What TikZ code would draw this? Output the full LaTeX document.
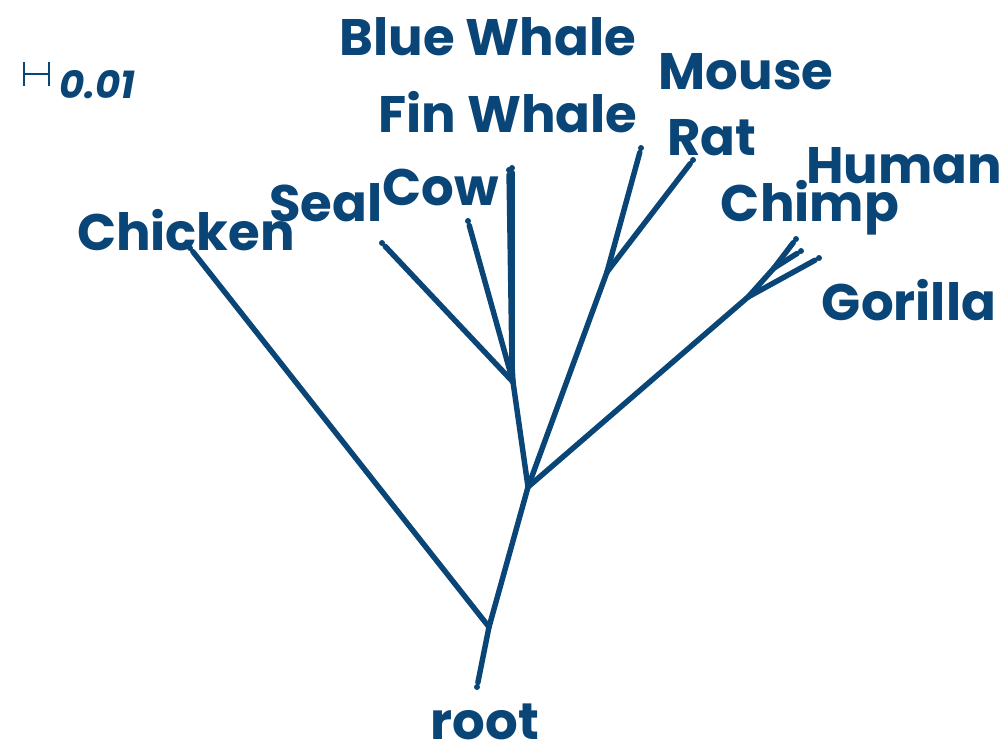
\documentclass[tikz,border=0pt]{standalone}
\usepackage{fontspec}
\setmainfont{Poppins}
\usetikzlibrary{positioning}
\definecolor{treeblue}{HTML}{0A4577}
\tikzset{
    branch/.style={treeblue, line width=1.55pt, line cap=round},
    twig/.style={branch, shorten >=1.3pt},
    taxon/.style={text=treeblue, inner sep=0pt,
        font=\fontsize{14.6}{15}\selectfont\bfseries}
}

\begin{document}
\begin{tikzpicture}[x=0.01cm, y=-0.01cm]
    \useasboundingbox (0, 0) rectangle (1001, 748);

    % inner nodes
    \coordinate (n0) at (489, 627);
    \coordinate (n1) at (528, 487);
    \coordinate (n2) at (513, 382);
    \coordinate (n3) at (512, 365);
    \coordinate (n4) at (607, 272);
    \coordinate (n5) at (748, 297);
    \coordinate (n6) at (774, 268);

    % leaves
    \coordinate (root) at (477, 687);
    \coordinate (chicken) at (190, 248);
    \coordinate (seal) at (382, 243);
    \coordinate (cow) at (468, 221);
    \coordinate (fin) at (509, 170);
    \coordinate (blue) at (512, 168);
    \coordinate (mouse) at (641, 148);
    \coordinate (rat) at (693, 160);
    \coordinate (human) at (796, 239);
    \coordinate (chimp) at (801, 251);
    \coordinate (gorilla) at (819, 258);

    \node[taxon] (lroot) at (485, 722) {root};
    \node[taxon] (lchicken) at (186, 230) {Chicken};
    \node[taxon] (lseal) at (326, 203) {Seal};
    \node[taxon] (lcow) at (441, 187) {Cow};
    \node[taxon] (lfin) at (508, 112) {Fin Whale};
    \node[taxon] (lblue) at (488, 37) {Blue Whale};
    \node[taxon] (lmouse) at (746, 72) {Mouse};
    \node[taxon] (lrat) at (712, 138) {Rat};
    \node[taxon] (lhuman) at (904, 166) {Human};
    \node[taxon] (lchimp) at (810, 208) {Chimp};
    \node[taxon] (lgorilla) at (909, 300) {Gorilla};

    \draw[branch] (n0) -- (n1) -- (n2) -- (n3);
    \draw[branch] (n1) -- (n4);
    \draw[branch] (n1) -- (n5) -- (n6);
    \foreach \a/\b in {n0/root, n0/chicken, n2/seal, n2/cow, n3/fin, n3/blue,
                       n4/mouse, n4/rat, n6/human, n6/chimp, n5/gorilla} {
        \draw[twig] (\a) -- (\b);
        \fill[treeblue] (\b) circle (0.85pt);
    }

    % scale bar
    \coordinate (s0) at (23, 74);
    \coordinate (s1) at (50, 74);
    \draw[treeblue, line width=0.7pt, |-|] (s0) -- (s1);
    \node[text=treeblue, inner sep=0pt, font=\fontsize{11}{11}\selectfont\bfseries\itshape,
          right=2.5pt of s1, yshift=-3pt] (scale) {0.01};
\end{tikzpicture}
\end{document}
